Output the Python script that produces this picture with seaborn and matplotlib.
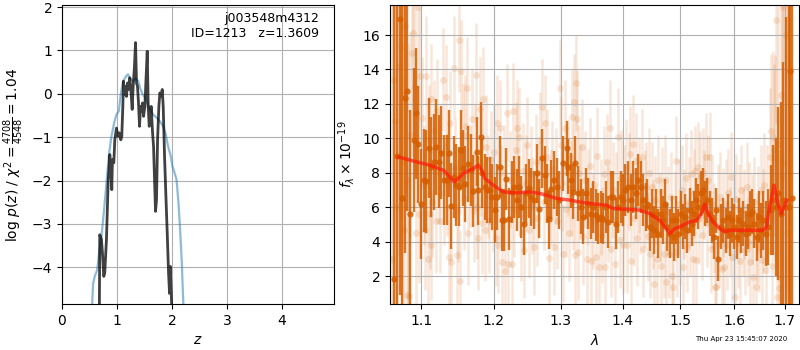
import numpy as np
import pandas as pd
import matplotlib
matplotlib.use('Agg')
import matplotlib.pyplot as plt
import seaborn as sns
from matplotlib.ticker import NullLocator, FixedLocator, FixedFormatter

# --- p(z) curves (left panel) ---
pz_z_black = [0.680, 0.687, 0.718, 0.736, 0.760, 0.778, 0.809, 0.839, 0.870, 0.888,
              0.906, 0.918, 0.943, 0.961, 0.991, 1.016, 1.040, 1.070, 1.088, 1.107,
              1.119, 1.137, 1.155, 1.173, 1.192, 1.210, 1.234, 1.253, 1.277, 1.295,
              1.319, 1.338, 1.356, 1.374, 1.392, 1.411, 1.429, 1.447, 1.465, 1.484,
              1.508, 1.526, 1.551, 1.569, 1.587, 1.605, 1.623, 1.648, 1.666, 1.684,
              1.702, 1.720, 1.739, 1.763, 1.781, 1.806, 1.824, 1.842, 1.866, 1.891,
              1.915, 1.939, 1.957, 1.970, 1.988, 2.000]
pz_logp_black = [-5.0, -3.25, -3.36, -3.67, -4.21, -4.13, -3.36, -2.06, -1.40, -1.67,
                 -2.21, -1.52, -1.59, -1.06, -0.79, -0.98, -0.90, -1.06, -0.98, -0.29,
                 0.29, -0.02, 0.17, -0.06, 0.25, 0.10, 0.37, 0.10, -0.36, 0.17,
                 0.64, 1.18, 0.25, 0.17, -0.21, -0.75, -0.29, -0.40, -0.21, -0.52,
                 -0.29, 0.25, 0.98, -0.29, -0.75, -0.59, -0.29, -0.90, -1.21, -1.98,
                 -2.71, -2.44, -1.06, -0.29, 0.02, -0.06, 0.10, -0.29, -1.44, -2.36,
                 -3.21, -4.13, -4.60, -3.98, -4.60, -5.0]

pz_z_blue = [0.547, 0.566, 0.596, 0.640, 0.675, 0.718, 0.760, 0.809, 0.858, 0.900,
             0.950, 0.990, 1.034, 1.064, 1.110, 1.170, 1.200, 1.230, 1.290, 1.340,
             1.390, 1.420, 1.470, 1.510, 1.550, 1.600, 1.660, 1.720, 1.780, 1.840,
             1.890, 1.930, 1.980, 2.010, 2.050, 2.085, 2.120, 2.150, 2.180, 2.210]
pz_logp_blue = [-4.90, -4.37, -4.21, -4.06, -3.67, -3.29, -2.75, -2.06, -1.36, -0.98,
                -0.67, -0.48, -0.40, -0.06, 0.29, 0.41, 0.45, 0.37, 0.29, 0.35,
                0.29, 0.14, -0.02, -0.09, -0.21, -0.36, -0.48, -0.55, -0.63, -0.75,
                -0.94, -1.21, -1.44, -1.67, -1.83, -1.98, -2.52, -3.14, -3.90, -4.90]

# --- binned spectrum (dark points) ---
binned_wave = [1.0649, 1.0685, 1.0722, 1.0755, 1.0786, 1.0818, 1.0856, 1.0903, 1.0937, 1.0959,
               1.0997, 1.1034, 1.1068, 1.1100, 1.1135, 1.1167, 1.1201, 1.1234, 1.1268, 1.1305,
               1.1342, 1.1373, 1.1404, 1.1441, 1.1473, 1.1506, 1.1533, 1.1569, 1.1597, 1.1634,
               1.1672, 1.1708, 1.1756, 1.1774, 1.1812, 1.1835, 1.1869, 1.1906, 1.1944, 1.1977,
               1.2012, 1.2049, 1.2088, 1.2121, 1.2146, 1.2180, 1.2219, 1.2258, 1.2292, 1.2332,
               1.2366, 1.2400, 1.2440, 1.2474, 1.2515, 1.2549, 1.2590, 1.2631, 1.2665, 1.2716,
               1.2757, 1.2792, 1.2818, 1.2853, 1.2895, 1.2937, 1.2972, 1.3039, 1.3092, 1.3117,
               1.3160, 1.3186, 1.3223, 1.3275, 1.3318, 1.3355, 1.3398, 1.3435, 1.3478, 1.3515,
               1.3559, 1.3596, 1.3636, 1.3678, 1.3722, 1.3760, 1.3800, 1.3843, 1.3887, 1.3925,
               1.3970, 1.4009, 1.4049, 1.4093, 1.4134, 1.4178, 1.4223, 1.4263, 1.4304, 1.4348,
               1.4394, 1.4424, 1.4464, 1.4498, 1.4538, 1.4580, 1.4615, 1.4655, 1.4696, 1.4731,
               1.4773, 1.4814, 1.4849, 1.4890, 1.4933, 1.4969, 1.5010, 1.5051, 1.5087, 1.5131,
               1.5172, 1.5209, 1.5250, 1.5294, 1.5331, 1.5373, 1.5416, 1.5453, 1.5497, 1.5540,
               1.5577, 1.5620, 1.5665, 1.5702, 1.5746, 1.5789, 1.5840, 1.5878, 1.5922, 1.5967,
               1.6006, 1.6050, 1.6094, 1.6132, 1.6179, 1.6223, 1.6262, 1.6307, 1.6354, 1.6393,
               1.6438, 1.6483, 1.6523, 1.6570, 1.6616, 1.6670, 1.6722, 1.6770, 1.6816, 1.6870,
               1.6923, 1.6972, 1.7024, 1.7080, 1.7106, 1.7147]
binned_flux = [1.81, 9.00, 16.93, 6.56, 12.32, 12.76, 5.63, 9.90, 11.45, 9.66,
               6.17, 7.57, 7.50, 9.43, 8.34, 8.63, 9.51, 8.63, 9.16, 7.57,
               7.57, 9.12, 6.06, 7.76, 7.28, 7.18, 9.35, 8.27, 7.34, 8.53,
               8.15, 6.95, 9.22, 6.99, 10.09, 7.96, 7.18, 6.99, 6.99, 6.60,
               5.83, 6.60, 8.34, 5.24, 5.24, 7.63, 5.34, 6.89, 7.18, 6.41,
               7.18, 6.02, 5.01, 6.80, 7.09, 6.60, 6.41, 7.96, 5.92, 8.83,
               7.86, 6.80, 5.30, 7.03, 7.57, 7.18, 6.41, 8.54, 9.41, 8.34,
               7.57, 6.89, 8.54, 6.80, 6.02, 5.44, 6.80, 6.21, 5.63, 6.02,
               5.53, 5.34, 5.44, 5.34, 6.02, 5.15, 6.60, 6.60, 5.05, 6.02,
               6.60, 6.41, 6.99, 7.18, 6.41, 7.18, 6.80, 7.57, 7.18, 6.41,
               6.02, 6.21, 4.86, 5.63, 4.66, 5.63, 4.47, 5.63, 5.24, 6.21,
               4.86, 4.47, 5.24, 4.27, 5.24, 4.47, 5.63, 4.86, 5.44, 4.66,
               5.83, 5.05, 5.63, 6.41, 6.02, 6.80, 6.99, 6.21, 6.41, 5.63,
               5.24, 4.27, 5.83, 3.02, 4.86, 5.24, 4.66, 5.44, 4.47, 5.24,
               4.86, 4.27, 5.24, 4.66, 5.05, 4.47, 4.86, 5.63, 5.73, 5.05,
               4.27, 5.44, 4.66, 5.24, 4.47, 4.86, 5.83, 6.41, 6.02, 6.80,
               5.63, 6.41, 6.02, 6.00, 13.92, 6.56]
binned_err = [25.0, 18.0, 16.0, 12.0, 9.0, 7.0, 6.0, 4.2, 3.8, 3.4,
              3.2, 3.0, 3.0, 2.9, 2.9, 2.8, 2.8, 2.7, 2.7, 2.6,
              2.6, 2.5, 2.5, 2.4, 2.4, 2.3, 2.3, 2.2, 2.2, 2.2,
              2.1, 2.1, 2.0, 2.0, 2.0, 2.0, 1.9, 1.9, 1.9, 1.9,
              1.9, 1.9, 1.8, 1.8, 1.8, 1.8, 1.8, 1.8, 1.8, 1.8,
              1.8, 1.8, 1.8, 1.7, 1.7, 1.7, 1.7, 1.7, 1.7, 1.7,
              1.7, 1.7, 1.7, 1.7, 1.7, 1.7, 1.7, 1.6, 1.6, 1.6,
              1.6, 1.6, 1.6, 1.6, 1.6, 1.6, 1.5, 1.5, 1.5, 1.5,
              1.5, 1.5, 1.5, 1.5, 1.5, 1.5, 1.5, 1.5, 1.5, 1.5,
              1.5, 1.5, 1.5, 1.5, 1.5, 1.5, 1.5, 1.5, 1.5, 1.5,
              1.4, 1.4, 1.4, 1.4, 1.4, 1.4, 1.4, 1.4, 1.4, 1.4,
              1.4, 1.4, 1.4, 1.4, 1.4, 1.4, 1.3, 1.3, 1.3, 1.3,
              1.3, 1.3, 1.3, 1.3, 1.3, 1.3, 1.3, 1.3, 1.3, 1.3,
              1.3, 1.3, 1.3, 1.3, 1.3, 1.3, 1.3, 1.3, 1.3, 1.3,
              1.3, 1.3, 1.3, 1.3, 1.3, 1.3, 1.3, 1.3, 1.3, 1.4,
              1.4, 1.5, 1.6, 1.7, 1.9, 2.2, 2.6, 3.2, 4.0, 5.0,
              6.5, 8.0, 11.0, 15.0, 22.0, 22.0]

# --- unbinned spectrum (faint points) ---
raw_wave = [1.0625, 1.0649, 1.0668, 1.0690, 1.0712, 1.0735, 1.0750, 1.0768, 1.0780, 1.0795,
            1.0810, 1.0825, 1.0840, 1.0860, 1.0878, 1.0893, 1.0915, 1.0930, 1.0962, 1.0975,
            1.0990, 1.1010, 1.1035, 1.1055, 1.1068, 1.1085, 1.1105, 1.1117, 1.1125, 1.1135,
            1.1150, 1.1170, 1.1195, 1.1215, 1.1240, 1.1255, 1.1296, 1.1310, 1.1330, 1.1350,
            1.1372, 1.1387, 1.1405, 1.1441, 1.1460, 1.1478, 1.1495, 1.1516, 1.1527, 1.1545,
            1.1560, 1.1580, 1.1600, 1.1620, 1.1640, 1.1660, 1.1690, 1.1715,
            1.1730, 1.1747, 1.1765, 1.1779, 1.1800, 1.1815, 1.1835, 1.1850, 1.1873, 1.1890,
            1.1910, 1.1935, 1.1960, 1.1985, 1.2010, 1.2030, 1.2049, 1.2065, 1.2085, 1.2105,
            1.2125, 1.2146, 1.2165, 1.2190, 1.2205, 1.2230, 1.2258, 1.2275, 1.2300, 1.2320,
            1.2345, 1.2366, 1.2390, 1.2420, 1.2440, 1.2465, 1.2490, 1.2515, 1.2540, 1.2565,
            1.2590, 1.2615, 1.2640, 1.2665, 1.2690, 1.2720, 1.2740, 1.2765, 1.2792, 1.2818,
            1.2845, 1.2870, 1.2895, 1.2920, 1.2950, 1.2985, 1.3000,
            1.3015, 1.3040, 1.3063, 1.3085, 1.3110, 1.3135, 1.3160, 1.3172, 1.3190, 1.3205,
            1.3223, 1.3240, 1.3255, 1.3270, 1.3290, 1.3310, 1.3335, 1.3360, 1.3385, 1.3410,
            1.3435, 1.3460, 1.3485, 1.3510, 1.3535, 1.3560, 1.3585, 1.3612, 1.3636, 1.3660,
            1.3690, 1.3715, 1.3740, 1.3765, 1.3790, 1.3815, 1.3843, 1.3870, 1.3895, 1.3925,
            1.3950, 1.3975, 1.4000, 1.4025, 1.4050, 1.4075, 1.4100, 1.4122, 1.4150, 1.4178,
            1.4200, 1.4225, 1.4250, 1.4275, 1.4300, 1.4325, 1.4350, 1.4375,
            1.4400, 1.4425, 1.4450, 1.4475, 1.4498, 1.4520, 1.4538, 1.4560, 1.4585, 1.4610,
            1.4635, 1.4660, 1.4685, 1.4710, 1.4731, 1.4755, 1.4780, 1.4800, 1.4830, 1.4855,
            1.4875, 1.4900, 1.4925, 1.4950, 1.4975, 1.5000, 1.5025, 1.5051, 1.5075, 1.5100,
            1.5125, 1.5150, 1.5175, 1.5200, 1.5225, 1.5250, 1.5275, 1.5294, 1.5315, 1.5340,
            1.5365, 1.5390, 1.5416, 1.5440, 1.5465, 1.5490, 1.5515, 1.5540, 1.5565, 1.5590,
            1.5620, 1.5645, 1.5665, 1.5690, 1.5715, 1.5740, 1.5765,
            1.5790, 1.5815, 1.5840, 1.5865, 1.5890, 1.5915, 1.5940, 1.5965, 1.5990, 1.6015,
            1.6040, 1.6065, 1.6090, 1.6115, 1.6140, 1.6165, 1.6190, 1.6215, 1.6240, 1.6265,
            1.6290, 1.6315, 1.6340, 1.6365, 1.6390, 1.6415, 1.6440, 1.6465, 1.6490, 1.6515,
            1.6540, 1.6565, 1.6590, 1.6615, 1.6640, 1.6695, 1.6730, 1.6745, 1.6770, 1.6790,
            1.6812, 1.6830, 1.6845, 1.6870, 1.6890, 1.6915, 1.6940, 1.6964, 1.6990, 1.7020,
            1.7050]
raw_flux = [3.0, 13.4, 11.0, 6.0, 14.2, 15.3, 8.6, 12.5, 4.7, 16.5,
            0.9, 7.5, 0.85, 10.2, 14.95, 16.1, 13.0, 4.5, 17.65, 5.6,
            13.6, 11.2, 7.3, 4.7, 13.6, 3.0, 9.9, 5.63, 3.8, 12.3,
            6.3, 10.4, 5.2, 11.6, 8.0, 5.2, 13.4, 6.8, 12.4, 7.3,
            3.1, 10.9, 2.8, 14.1, 8.2, 3.2, 5.8, 15.7, 1.7, 13.9,
            10.2, 6.5, 10.7, 12.9, 4.5, 7.8, 11.1, 5.8,
            9.0, 13.7, 6.0, 4.2, 11.7, 8.5, 5.1, 12.3, 4.7, 9.5,
            7.2, 5.2, 8.8, 6.2, 9.2, 4.2, 10.9, 3.8, 10.6, 6.8,
            2.8, 8.0, 2.3, 11.5, 2.7, 7.6, 2.7, 11.6, 5.9, 9.3,
            10.6, 10.1, 4.5, 8.1, 3.5, 7.4, 9.6, 4.7, 7.9, 6.1,
            3.7, 8.6, 5.4, 7.0, 9.9, 11.8, 6.3, 10.9, 8.9, 3.05,
            6.6, 8.2, 3.7, 7.8, 5.2, 12.9, 9.6,
            7.4, 3.3, 10.6, 5.9, 8.3, 4.5, 7.1, 11.25, 6.3, 12.1,
            3.2, 13.2, 11.15, 3.4, 8.0, 6.9, 9.5, 4.3, 7.6, 3.0,
            6.6, 8.4, 2.9, 5.2, 7.3, 3.1, 9.0, 2.5, 6.0, 4.4,
            7.9, 2.5, 8.6, 5.6, 10.6, 3.6, 7.0, 2.7, 6.4, 10.1,
            4.1, 7.7, 3.8, 6.8, 8.3, 3.8, 7.5, 9.1, 2.9, 9.7,
            5.4, 8.7, 4.2, 7.3, 6.1, 8.9, 3.6, 6.5,
            7.2, 4.3, 8.0, 3.3, 7.2, 5.0, 1.56, 6.4, 3.0, 7.6,
            5.4, 2.6, 6.9, 3.3, 7.57, 1.66, 5.8, 3.3, 6.6, 2.0,
            1.37, 5.5, 8.7, 3.4, 6.2, 4.1, 7.0, 2.53, 5.6, 7.7,
            3.7, 6.3, 4.6, 7.9, 3.0, 6.8, 8.1, 2.92, 8.34, 5.3,
            7.8, 4.4, 8.0, 6.7, 8.9, 5.1, 7.57, 8.92, 3.6, 6.2,
            4.8, 1.37, 1.37, 5.9, 3.9, 6.6, 2.4,
            5.7, 2.53, 6.2, 3.8, 6.8, 4.6, 7.76, 3.1, 5.5, 0.78,
            6.5, 3.9, 5.9, 2.9, 7.0, 4.6, 5.6, 3.5, 7.18, 4.0,
            6.0, 2.8, 5.3, 1.95, 6.3, 1.37, 4.2, 5.8, 3.69, 6.99,
            2.92, 5.2, 7.3, 2.34, 6.1, 8.92, 10.4, 2.6, 10.09, 9.31,
            8.85, 16.87, 0.78, 9.7, 1.3, 12.5, 7.8, 17.6, 8.6, 16.0,
            4.5]
raw_err = [15.0, 14.0, 14.0, 12.0, 11.0, 10.0, 10.0, 9.0, 9.0, 8.0,
           8.0, 8.0, 7.0, 6.0, 6.0, 6.0, 5.0, 5.0, 6.0, 4.0,
           4.0, 3.5, 3.5, 3.5, 3.5, 3.5, 3.2, 3.2, 3.2, 3.2,
           3.2, 3.0, 3.0, 3.0, 3.0, 3.0, 3.0, 3.0, 3.0, 3.0,
           3.0, 3.0, 3.0, 3.0, 3.0, 3.0, 3.0, 3.0, 3.0, 3.0,
           3.0, 3.0, 3.0, 3.0, 3.0, 3.0, 3.0, 3.0,
           3.0, 3.0, 3.0, 3.0, 3.0, 3.0, 3.0, 3.0, 3.0, 3.0,
           3.0, 3.0, 2.8, 2.8, 2.8, 2.8, 2.8, 2.8, 2.8, 2.8,
           2.8, 2.8, 2.8, 2.8, 2.8, 2.8, 2.8, 2.8, 2.8, 2.8,
           2.8, 2.8, 2.8, 2.8, 2.8, 2.8, 2.8, 2.8, 2.8, 2.8,
           2.8, 2.8, 2.8, 2.8, 2.8, 2.8, 2.8, 2.8, 2.8, 2.8,
           2.8, 2.8, 2.8, 2.8, 2.8, 2.8, 2.8,
           2.8, 2.8, 2.8, 2.8, 2.8, 2.8, 2.8, 2.8, 2.8, 2.8,
           2.8, 2.8, 2.8, 2.8, 2.8, 2.8, 2.8, 2.8, 2.8, 2.8,
           2.8, 2.8, 2.8, 2.8, 2.8, 2.8, 2.8, 2.8, 2.8, 2.8,
           2.8, 2.8, 2.8, 2.8, 2.8, 2.8, 2.8, 2.8, 2.8, 2.8,
           2.8, 2.8, 2.8, 2.8, 2.8, 2.8, 2.8, 2.8, 2.8, 2.8,
           2.8, 2.8, 2.8, 2.8, 2.8, 2.8, 2.8, 2.8,
           2.6, 2.6, 2.6, 2.6, 2.6, 2.6, 2.6, 2.6, 2.6, 2.6,
           2.6, 2.6, 2.6, 2.6, 2.6, 2.6, 2.6, 2.6, 2.6, 2.6,
           2.6, 2.6, 2.6, 2.6, 2.6, 2.6, 2.6, 2.6, 2.6, 2.6,
           2.6, 2.6, 2.6, 2.6, 2.6, 2.6, 2.6, 2.6, 2.6, 2.6,
           2.6, 2.6, 2.6, 2.6, 2.6, 2.6, 2.6, 2.6, 2.6, 2.6,
           2.6, 2.6, 2.6, 2.6, 2.6, 2.6, 2.6,
           2.6, 2.6, 2.6, 2.6, 2.6, 2.6, 2.6, 2.6, 2.6, 2.8,
           2.6, 2.6, 2.6, 2.6, 2.6, 2.6, 2.6, 2.6, 2.6, 2.6,
           2.6, 2.6, 2.6, 2.6, 2.6, 2.8, 2.6, 2.6, 2.6, 2.6,
           3.0, 3.0, 3.0, 3.5, 3.5, 4.0, 4.5, 4.5, 5.0, 5.0,
           6.0, 6.0, 7.0, 8.0, 8.0, 10.0, 10.0, 12.0, 13.0, 15.0,
           16.0]

# --- best-fit model (red line) ---
model_wave = [1.0704, 1.0942, 1.1117, 1.1296, 1.1363, 1.1445, 1.1500, 1.1569, 1.1708, 1.1779,
              1.1826, 1.1873, 1.1992, 1.2136, 1.2332, 1.2530, 1.2681, 1.2937, 1.3144, 1.3355,
              1.3570, 1.3734, 1.3843, 1.4122, 1.4292, 1.4464, 1.4638, 1.4725, 1.4814, 1.4903,
              1.4992, 1.5172, 1.5294, 1.5386, 1.5447, 1.5508, 1.5601, 1.5727, 1.5821, 1.5916,
              1.6237, 1.6563, 1.6630, 1.6696, 1.6782, 1.6862, 1.6931, 1.6997, 1.7045]
model_flux = [8.92, 8.63, 8.44, 8.15, 7.86, 7.47, 7.67, 7.96, 8.25, 8.44,
              8.15, 7.67, 7.28, 6.89, 6.83, 6.89, 6.80, 6.51, 6.41, 6.27,
              6.17, 6.12, 5.92, 5.87, 5.83, 5.63, 5.24, 4.86, 4.47, 4.76,
              4.86, 5.15, 5.24, 5.63, 6.17, 5.63, 5.15, 4.76, 4.57, 4.66,
              4.66, 4.66, 4.86, 6.02, 7.28, 6.21, 5.63, 6.12, 6.41]

obj_label = 'j003548m4312\nID=1213   z=1.3609'
stamp = 'Thu Apr 23 15:45:07 2020'
spec_color = '#d55e00'

fig = plt.figure(figsize=(8, 3.5), dpi=100)
ax_pz = fig.add_axes([0.0775, 0.131, 0.34, 0.855])
ax_sp = fig.add_axes([0.4875, 0.131, 0.511, 0.855])

# p(z) panel
sns.lineplot(x=pz_z_blue, y=pz_logp_blue, sort=False, estimator=None,
             color='#1f77b4', alpha=0.5, linewidth=1.6, ax=ax_pz)
sns.lineplot(x=pz_z_black, y=pz_logp_black, sort=False, estimator=None,
             color='k', alpha=0.75, linewidth=2, ax=ax_pz)
ax_pz.set_xlim(0, 4.95)
ax_pz.set_ylim(-4.85, 2.05)
ax_pz.set_xlabel('$z$')
ax_pz.set_ylabel(r'log $p(z)$ / $\chi^2=\frac{4708}{4548}=1.04$')
ax_pz.grid(True)
ax_pz.text(0.945, 0.975, obj_label, transform=ax_pz.transAxes,
           ha='right', va='top', fontsize=9, linespacing=1.15)

# spectrum panel
ax_sp.set_xscale('log')
ax_sp.errorbar(raw_wave, raw_flux, yerr=raw_err, fmt='o', color=spec_color,
               alpha=0.15, ms=5, elinewidth=1.8, mew=0, zorder=1)
ax_sp.errorbar(binned_wave, binned_flux, yerr=binned_err, fmt='o', color=spec_color,
               alpha=0.85, ms=4.5, elinewidth=1.7, mew=0, zorder=2)
sns.lineplot(x=model_wave, y=model_flux, sort=False, estimator=None,
             color='#ff1a0a', alpha=0.7, linewidth=2.5, ax=ax_sp, zorder=3)

xt = [1.1, 1.2, 1.3, 1.4, 1.5, 1.6, 1.7]
ax_sp.xaxis.set_major_locator(FixedLocator(xt))
ax_sp.xaxis.set_major_formatter(FixedFormatter([f'{v:.1f}' for v in xt]))
ax_sp.xaxis.set_minor_locator(NullLocator())
ax_sp.set_xlim(1.0598, 1.7288)
ax_sp.set_ylim(0.37, 17.75)
ax_sp.set_xlabel(r'$\lambda$')
ax_sp.set_ylabel(r'$f_\lambda \times 10^{-19}$')
ax_sp.grid(True)

fig.text(0.984, 0.03, stamp, ha='right', va='center', fontsize=5)

fig.savefig('out.png', dpi=100)
plt.close(fig)
